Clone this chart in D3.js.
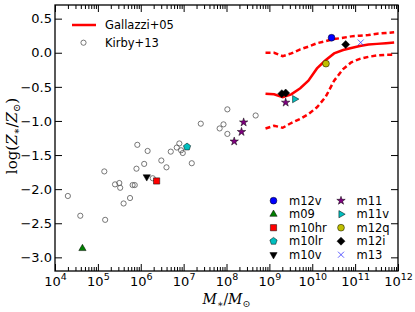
<!DOCTYPE html>
<html>
<head>
<meta charset="utf-8">
<script src="https://cdn.jsdelivr.net/npm/d3@7"></script>
<style>
  body { margin: 0; background: #fff; }
  svg { display: block; }
</style>
</head>
<body>
<div id="chart"></div>
<script>
var width = 415;
var height = 312;

// Gallazzi+05 relation: median and 16th / 84th percentiles
const galLogM = [8.91, 9.11, 9.31, 9.51, 9.72, 9.91, 10.11, 10.31, 10.51, 10.72, 10.91, 11.11, 11.31, 11.51, 11.72, 11.91];
const galMed = [-0.60, -0.61, -0.65, -0.61, -0.52, -0.41, -0.23, -0.11, -0.01, 0.04, 0.07, 0.10, 0.12, 0.13, 0.14, 0.15];
const galP16 = [-1.11, -1.07, -1.10, -1.03, -0.97, -0.90, -0.80, -0.65, -0.41, -0.24, -0.14, -0.09, -0.06, -0.04, -0.03, -0.03];
const galP84 = [0.00, 0.00, -0.05, -0.01, 0.05, 0.09, 0.14, 0.17, 0.20, 0.22, 0.24, 0.25, 0.26, 0.28, 0.29, 0.30];

// Kirby+13 dwarfs
const kirbyLogM = [4.30, 4.59, 5.15, 5.17, 5.40, 5.50, 5.52, 5.60, 5.75, 5.81, 5.86, 5.90, 5.92, 6.08, 6.16,
                   6.28, 6.48, 6.60, 6.70, 6.84, 6.90, 6.94, 6.98, 7.19, 7.40, 7.84, 7.93, 8.02, 8.02, 8.68];
const kirbyZ = [-2.10, -2.39, -1.74, -2.45, -1.93, -1.91, -1.98, -2.21, -2.13, -1.94, -1.94, -1.70, -1.35, -1.63, -1.44,
                -1.84, -1.58, -1.68, -1.45, -1.39, -1.33, -1.43, -1.47, -1.62, -1.04, -1.11, -1.05, -1.19, -0.83, -0.92];

// simulations
const simNames = ["m12v", "m09", "m10hr", "m10lr", "m10v", "m11", "m11v", "m12q", "m12i", "m13"];
const simLogM = [[10.45], [4.64], [6.37], [7.08], [6.14], [8.40, 8.35, 8.18, 9.38], [9.59], [10.32], [9.29, 9.38, 10.78], [11.13]];
const simZ = [[0.22], [-2.87], [-1.88], [-1.38], [-1.82], [-1.02, -1.16, -1.30, -0.73], [-0.68], [-0.16], [-0.60, -0.59, 0.12], [0.15]];
const simColors = ["#0000ff", "#007f00", "#ff0000", "#00bfbf", "#000000", "#800080", "#00bfbf", "#bfbf00", "#000000", "#3333ff"];
const simShapes = ["circle", "triup", "square", "pentagon", "tridown", "star", "triright", "circle", "diamond", "x"];

const xTicks = [4, 5, 6, 7, 8, 9, 10, 11, 12];
const yTicks = [-3.0, -2.5, -2.0, -1.5, -1.0, -0.5, 0.0, 0.5];

const svg = d3.select("#chart")
    .append("svg")
    .attr("width", width)
    .attr("height", height);

var x = d3.scaleLog().domain([1e4, 1e12]).range([55, 398]);
var y = d3.scaleLinear().domain([-3.2, 0.7]).range([271, 5]);

var tickFont = "DejaVu Sans, sans-serif";

// minor log ticks on x
var minor = [];
for (var e = 4; e < 12; e++) {
    for (var k = 2; k <= 9; k++) minor.push(k * Math.pow(10, e));
}
var major = xTicks.map(function (e) { return Math.pow(10, e); });

function styleAxis(g) {
    g.select(".domain").remove();
    g.selectAll("line").attr("stroke", "#000").attr("stroke-width", 1);
}

// bottom
svg.append("g").attr("transform", "translate(0,271)")
    .call(d3.axisBottom(x).tickValues(minor).tickSizeInner(-4).tickSizeOuter(0).tickFormat(""))
    .call(styleAxis);
var xb = svg.append("g").attr("transform", "translate(0,271)")
    .call(d3.axisBottom(x).tickValues(major).tickSizeInner(-7).tickSizeOuter(0).tickFormat(""))
    .call(styleAxis);
xb.selectAll(".tick text").each(function (d) {
    var t = d3.select(this);
    t.attr("y", 15).attr("dy", null)
        .attr("fill", "#000").attr("font-family", tickFont).attr("font-size", 13);
    t.append("tspan").text("10");
    t.append("tspan").attr("dy", -6).attr("font-size", 9.5).text(Math.round(Math.log10(d)));
});
// top
svg.append("g").attr("transform", "translate(0,5)")
    .call(d3.axisTop(x).tickValues(minor).tickSizeInner(-4).tickSizeOuter(0).tickFormat(""))
    .call(styleAxis);
svg.append("g").attr("transform", "translate(0,5)")
    .call(d3.axisTop(x).tickValues(major).tickSizeInner(-7).tickSizeOuter(0).tickFormat(""))
    .call(styleAxis);

// left / right
var yl = svg.append("g").attr("transform", "translate(55,0)")
    .call(d3.axisLeft(y).tickValues(yTicks).tickSizeInner(-7).tickSizeOuter(0).tickPadding(3).tickFormat(d3.format(".1f")))
    .call(styleAxis);
yl.selectAll(".tick text").attr("fill", "#000").attr("font-family", tickFont).attr("font-size", 13);
svg.append("g").attr("transform", "translate(398,0)")
    .call(d3.axisRight(y).tickValues(yTicks).tickSizeInner(-7).tickSizeOuter(0).tickFormat(""))
    .call(styleAxis);

svg.append("rect")
    .attr("x", 55).attr("y", 5).attr("width", 343).attr("height", 266)
    .attr("fill", "none").attr("stroke", "#000").attr("stroke-width", 1.3);

// Gallazzi lines
function galLine(vals) {
    return d3.line()
        .x(function (d, i) { return x(Math.pow(10, galLogM[i])); })
        .y(function (d) { return y(d); })(vals);
}
svg.append("path").attr("d", galLine(galP84)).attr("fill", "none")
    .attr("stroke", "#ff0000").attr("stroke-width", 2.5).attr("stroke-dasharray", "5,3");
svg.append("path").attr("d", galLine(galP16)).attr("fill", "none")
    .attr("stroke", "#ff0000").attr("stroke-width", 2.5).attr("stroke-dasharray", "5,3");
svg.append("path").attr("d", galLine(galMed)).attr("fill", "none")
    .attr("stroke", "#ff0000").attr("stroke-width", 2.5);

// Kirby points
svg.selectAll(".kirby")
    .data(kirbyLogM)
    .enter().append("circle")
    .attr("class", "kirby")
    .attr("cx", function (d) { return x(Math.pow(10, d)); })
    .attr("cy", function (d, i) { return y(kirbyZ[i]); })
    .attr("r", 2.6)
    .attr("fill", "none")
    .attr("stroke", "#555")
    .attr("stroke-width", 0.8);

// marker shapes
function poly(n, r, rot) {
    var pts = [];
    for (var i = 0; i < n; i++) {
        var a = rot + i * 2 * Math.PI / n;
        pts.push([r * Math.cos(a), r * Math.sin(a)]);
    }
    return "M" + pts.join("L") + "Z";
}
function markerPath(shape) {
    switch (shape) {
        case "circle": return d3.symbol(d3.symbolCircle, Math.PI * 3.4 * 3.4)();
        case "triup": return poly(3, 4.2, -Math.PI / 2);
        case "tridown": return poly(3, 4.2, Math.PI / 2);
        case "triright": return poly(3, 4.2, 0);
        case "square": return poly(4, 4.4, Math.PI / 4);
        case "pentagon": return poly(5, 3.8, -Math.PI / 2);
        case "diamond": return poly(4, 4.0, 0);
        case "star": return d3.symbol(d3.symbolStar, 22)();
        case "x": return "M-3,-3L3,3M-3,3L3,-3";
    }
}

simNames.forEach(function (name, s) {
    svg.selectAll(".sim" + s)
        .data(simLogM[s])
        .enter().append("path")
        .attr("class", "sim" + s)
        .attr("transform", function (d, i) { return "translate(" + x(Math.pow(10, d)) + "," + y(simZ[s][i]) + ")"; })
        .attr("d", markerPath(simShapes[s]))
        .attr("fill", simShapes[s] == "x" ? "none" : simColors[s])
        .attr("stroke", simShapes[s] == "x" ? simColors[s] : "#000")
        .attr("stroke-width", simShapes[s] == "x" ? 0.8 : 0.5);
});

// legend top-left
var lg = svg.append("g").attr("font-family", tickFont).attr("font-size", 11.5);
lg.append("line").attr("x1", 72).attr("x2", 96).attr("y1", 25).attr("y2", 25)
    .attr("stroke", "#ff0000").attr("stroke-width", 2.5);
lg.append("text").attr("x", 105).attr("y", 25).attr("dy", "0.35em").text("Gallazzi+05");
lg.append("circle").attr("cx", 83.5).attr("cy", 42.7).attr("r", 2.6)
    .attr("fill", "none").attr("stroke", "#555").attr("stroke-width", 0.8);
lg.append("text").attr("x", 105).attr("y", 42.7).attr("dy", "0.35em").text("Kirby+13");

// legend bottom-right
var lg2 = svg.append("g").attr("font-family", tickFont).attr("font-size", 11.5);
simNames.forEach(function (name, s) {
    var col = Math.floor(s / 5), row = s % 5;
    var mx = col == 0 ? 273.5 : 341, my = 200.7 + row * 13.5;
    lg2.append("path")
        .attr("transform", "translate(" + mx + "," + my + ")")
        .attr("d", markerPath(simShapes[s]))
        .attr("fill", simShapes[s] == "x" ? "none" : simColors[s])
        .attr("stroke", simShapes[s] == "x" ? simColors[s] : "#000")
        .attr("stroke-width", simShapes[s] == "x" ? 0.8 : 0.5);
    lg2.append("text").attr("x", mx + 15.5).attr("y", my).attr("dy", "0.35em").text(name);
});

// axis labels
var serif = "DejaVu Serif, serif";
var xl = svg.append("text").attr("x", 226.5).attr("y", 304).attr("text-anchor", "middle")
    .attr("font-family", serif).attr("font-size", 14);
xl.append("tspan").attr("font-style", "italic").text("M");
xl.append("tspan").attr("font-size", 9.5).attr("dy", 3).text("∗");
xl.append("tspan").attr("dy", -3).text("/");
xl.append("tspan").attr("font-style", "italic").text("M");
xl.append("tspan").attr("font-size", 9.5).attr("dy", 3).text("⊙");

var ylab = svg.append("text").attr("transform", "translate(17,136) rotate(-90)")
    .attr("text-anchor", "middle").attr("font-family", serif).attr("font-size", 15);
ylab.append("tspan").text("log(");
ylab.append("tspan").attr("font-style", "italic").text("Z");
ylab.append("tspan").attr("font-size", 10).attr("dy", 3).text("∗");
ylab.append("tspan").attr("dy", -3).text("/");
ylab.append("tspan").attr("font-style", "italic").text("Z");
ylab.append("tspan").attr("font-size", 10).attr("dy", 3).text("⊙");
ylab.append("tspan").attr("dy", -3).text(")");
</script>
</body>
</html>
